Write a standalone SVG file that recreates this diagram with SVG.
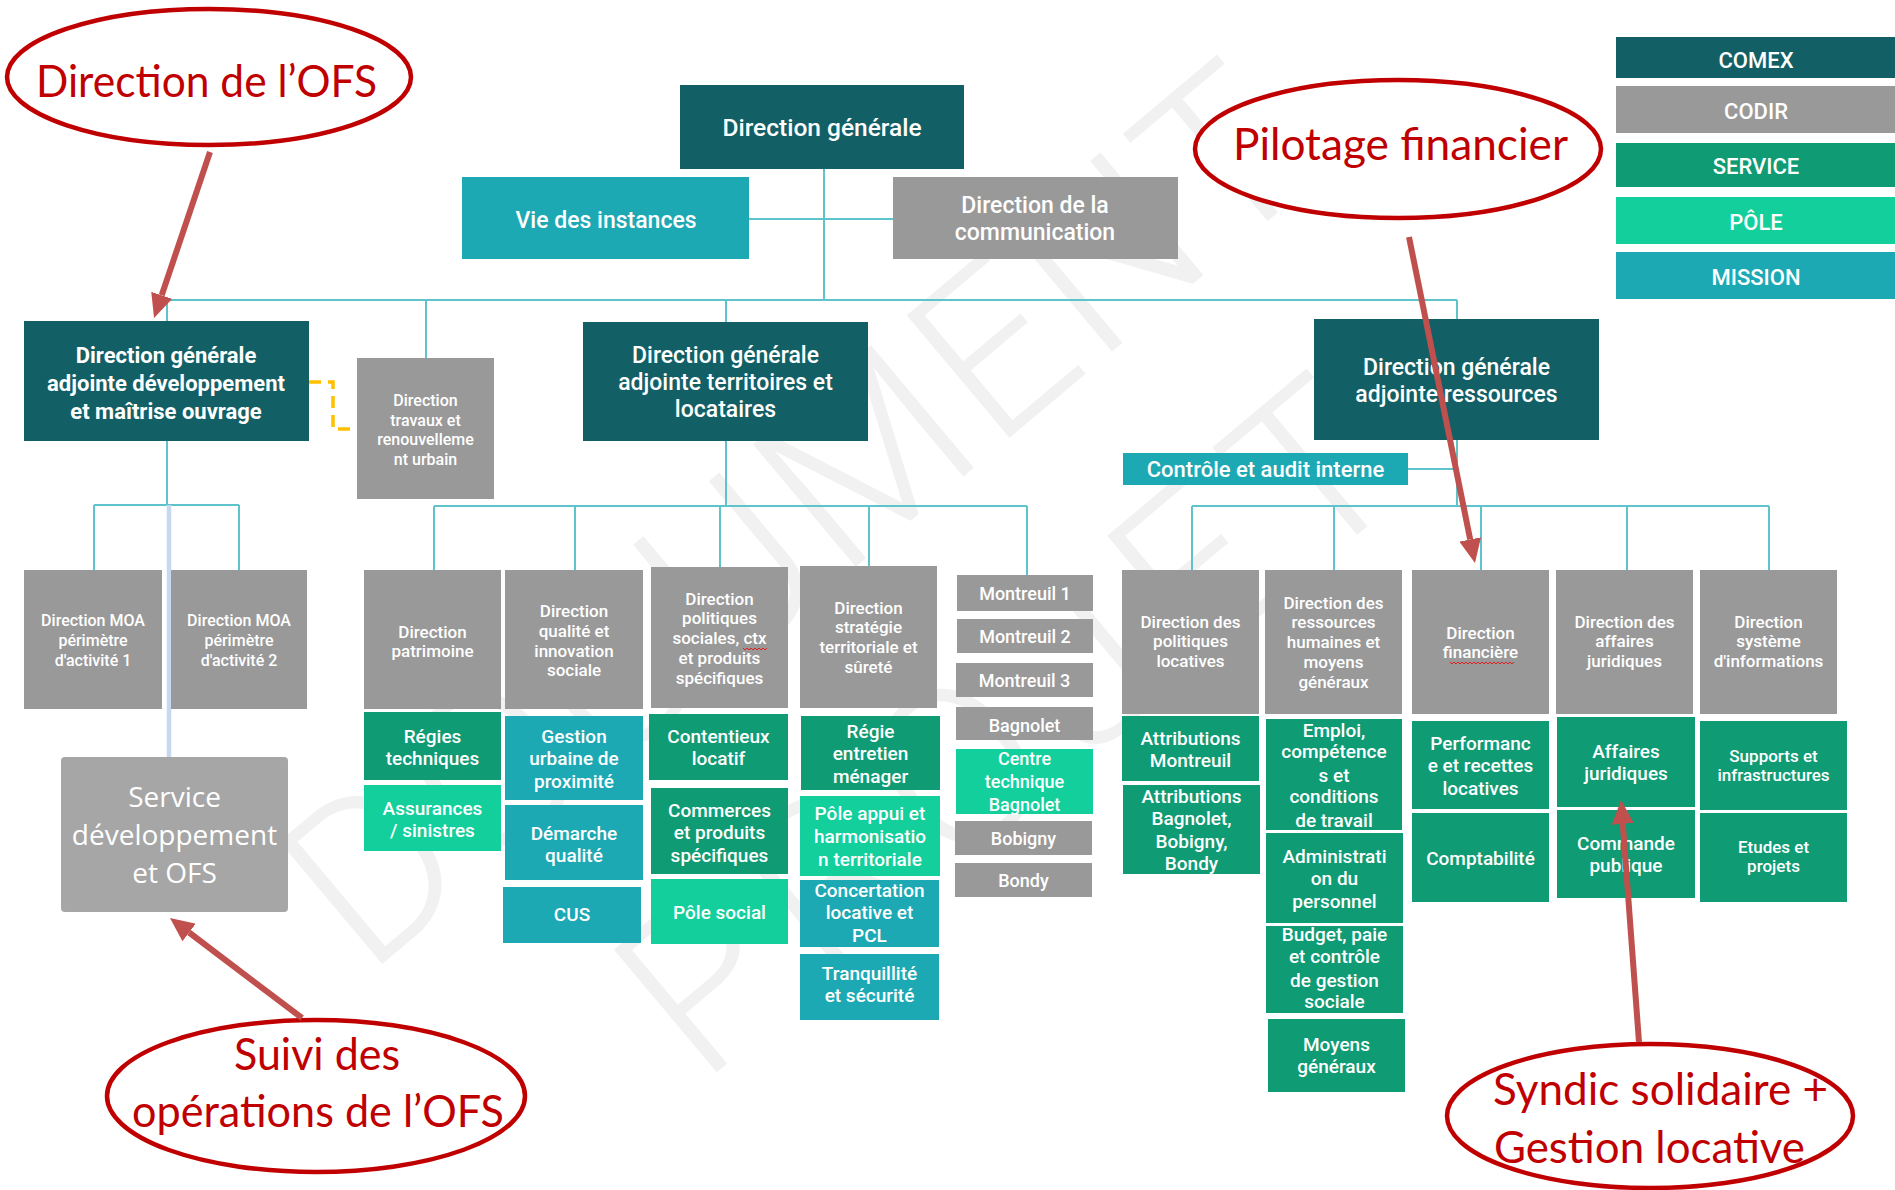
<svg xmlns="http://www.w3.org/2000/svg" width="1895" height="1190" viewBox="0 0 1895 1190">
  <defs>
    <style>
      .c1{fill:#135f66}
      .c2{fill:#999999}
      .c3{fill:#0f9b74}
      .c4{fill:#12cf9b}
      .c5{fill:#1ca9b4}
      .ln{stroke:#5ec3cb;stroke-width:2;fill:none}
      .t{fill:#ffffff;font-family:Roboto,"Liberation Sans",Arial,sans-serif;font-weight:500;text-anchor:middle}
      .b{font-weight:700}
      .f24{font-size:24.5px}
      .f23{font-size:23px}
      .f22{font-size:22px}
      .f21{font-size:22px}
      .f19{font-size:19px}
      .f18{font-size:18px}
      .f17{font-size:17px}
      .f16{font-size:16px}
      .ofs{fill:#ffffff;font-family:"Open Sans","Noto Sans",sans-serif;font-size:28px;text-anchor:middle}
      .ann{fill:#c00000;font-family:Lato,"Liberation Sans",sans-serif;font-size:45px}
      .ell{fill:#ffffff;stroke:#c00000;stroke-width:4.5}
      .arr{stroke:#c0504d;stroke-width:6;fill:none;marker-end:url(#ah)}
      .wm{fill:#f1f1f1;font-family:Roboto,"Liberation Sans",sans-serif;font-weight:300;font-size:225px;text-anchor:middle}
      .sq{stroke:#e02020;stroke-width:1;fill:none}
    </style>
    <marker id="ah" viewBox="0 0 24 22" refX="0" refY="11" markerWidth="24" markerHeight="22" markerUnits="userSpaceOnUse" orient="auto">
      <path d="M0,0 L24,11 L0,22 Z" fill="#c0504d"/>
    </marker>
  </defs>

  <rect width="1895" height="1190" fill="#ffffff"/>

  <!-- watermark -->
  <g id="watermark">
    <text class="wm" transform="translate(794,514) rotate(-40)" dy="80" textLength="1250" lengthAdjust="spacing">DOCUMENT</text>
    <text class="wm" transform="translate(1006,725) rotate(-40)" dy="80" textLength="930" lengthAdjust="spacing">PROJET</text>
  </g>

  <!-- legend -->
  <g id="legend">
    <g id="leg-comex"><rect class="c1" x="1616" y="37" width="279" height="41"/><text class="t f22" x="1756" y="68">COMEX</text></g>
    <g id="leg-codir"><rect class="c2" x="1616" y="86" width="279" height="47"/><text class="t f22" x="1756" y="119">CODIR</text></g>
    <g id="leg-service"><rect class="c3" x="1616" y="143" width="279" height="44"/><text class="t f22" x="1756" y="174">SERVICE</text></g>
    <g id="leg-pole"><rect class="c4" x="1616" y="197" width="279" height="47"/><text class="t f22" x="1756" y="230">PÔLE</text></g>
    <g id="leg-mission"><rect class="c5" x="1616" y="252" width="279" height="47"/><text class="t f22" x="1756" y="285">MISSION</text></g>
  </g>

  <!-- connectors -->
  <g id="connectors">
    <path class="ln" d="M824,169 V300 M749,219 H893 M167,300 H1457 M167,300 V321 M426,300 V358 M726,300 V322 M1457,300 V319"/>
    <path class="ln" d="M167,441 V505 M94,505 H239 M94,505 V570 M239,505 V570"/>
    <path d="M169,505 V757" stroke="#c6d9f0" stroke-width="4.5" fill="none"/>
    <path d="M309,382 H333 V429 H357" stroke="#ffc000" stroke-width="3.5" stroke-dasharray="12 7" fill="none"/>
    <path class="ln" d="M726,441 V506 M434,506 H1027 M434,506 V570 M575,506 V570 M720,506 V567 M869,506 V566 M1027,506 V575"/>
    <path class="ln" d="M1457,440 V506 M1408,469 H1457 M1192,506 H1769 M1192,506 V570 M1334,506 V570 M1481,506 V570 M1627,506 V570 M1769,506 V570"/>
  </g>

  <!-- top level -->
  <g id="dg"><rect class="c1" x="680" y="85" width="284" height="84"/><text class="t f24" x="822" y="136">Direction générale</text></g>
  <g id="vie-instances"><rect class="c5" x="462" y="177" width="287" height="82"/><text class="t f23" x="606" y="228">Vie des instances</text></g>
  <g id="communication"><rect class="c2" x="893" y="177" width="285" height="82"/><text class="t f23"><tspan x="1035" y="213">Direction de la</tspan><tspan x="1035" y="240">communication</tspan></text></g>

  <!-- DGA développement et maîtrise ouvrage -->
  <g id="dga-dev"><rect class="c1" x="24" y="321" width="285" height="120"/><text class="t b f22"><tspan x="166" y="363">Direction générale</tspan><tspan x="166" y="391">adjointe développement</tspan><tspan x="166" y="419">et maîtrise ouvrage</tspan></text></g>
  <g id="travaux"><rect class="c2" x="357" y="358" width="137" height="141"/><text class="t f16"><tspan x="425.5" y="406">Direction</tspan><tspan x="425.5" y="426">travaux et</tspan><tspan x="425.5" y="445">renouvelleme</tspan><tspan x="425.5" y="465">nt urbain</tspan></text></g>
  <g id="moa1"><rect class="c2" x="24" y="570" width="138" height="139"/><text class="t f16"><tspan x="93" y="626">Direction MOA</tspan><tspan x="93" y="646">périmètre</tspan><tspan x="93" y="666">d'activité 1</tspan></text></g>
  <g id="moa2"><rect class="c2" x="171" y="570" width="136" height="139"/><text class="t f16"><tspan x="239" y="626">Direction MOA</tspan><tspan x="239" y="646">périmètre</tspan><tspan x="239" y="666">d'activité 2</tspan></text></g>
  <g id="service-ofs"><rect x="61" y="757" width="227" height="155" rx="4" fill="#a6a6a6"/><text class="ofs"><tspan x="174.5" y="807">Service</tspan><tspan x="174.5" y="845">développement</tspan><tspan x="174.5" y="883">et OFS</tspan></text></g>

  <!-- DGA territoires et locataires -->
  <g id="dga-terr"><rect class="c1" x="583" y="322" width="285" height="119"/><text class="t f23"><tspan x="725.5" y="363">Direction générale</tspan><tspan x="725.5" y="390">adjointe territoires et</tspan><tspan x="725.5" y="417">locataires</tspan></text></g>
  <g id="patrimoine"><rect class="c2" x="364" y="570" width="137" height="139"/><text class="t f17"><tspan x="432.5" y="638">Direction</tspan><tspan x="432.5" y="657">patrimoine</tspan></text></g>
  <g id="qualite"><rect class="c2" x="505" y="570" width="138" height="139"/><text class="t f17"><tspan x="574" y="617">Direction</tspan><tspan x="574" y="637">qualité et</tspan><tspan x="574" y="657">innovation</tspan><tspan x="574" y="676">sociale</tspan></text></g>
  <g id="politiques-sociales"><rect class="c2" x="651" y="567" width="137" height="141"/><text class="t f17"><tspan x="719.5" y="605">Direction</tspan><tspan x="719.5" y="624">politiques</tspan><tspan x="719.5" y="644">sociales, ctx</tspan><tspan x="719.5" y="664">et produits</tspan><tspan x="719.5" y="684">spécifiques</tspan></text><path class="sq" d="M743,648 l2,2 l2,-2 l2,2 l2,-2 l2,2 l2,-2 l2,2 l2,-2 l2,2 l2,-2 l2,2 l2,-2"/></g>
  <g id="strategie"><rect class="c2" x="800" y="566" width="137" height="142"/><text class="t f17"><tspan x="868.5" y="614">Direction</tspan><tspan x="868.5" y="633">stratégie</tspan><tspan x="868.5" y="653">territoriale et</tspan><tspan x="868.5" y="673">sûreté</tspan></text></g>

  <g id="regies"><rect class="c3" x="364" y="712" width="137" height="68"/><text class="t f19"><tspan x="432.5" y="743">Régies</tspan><tspan x="432.5" y="765">techniques</tspan></text></g>
  <g id="assurances"><rect class="c4" x="364" y="785" width="137" height="66"/><text class="t f19"><tspan x="432.5" y="815">Assurances</tspan><tspan x="432.5" y="837">/ sinistres</tspan></text></g>
  <g id="gestion-urbaine"><rect class="c5" x="505" y="716" width="138" height="84"/><text class="t f19"><tspan x="574" y="743">Gestion</tspan><tspan x="574" y="765">urbaine de</tspan><tspan x="574" y="788">proximité</tspan></text></g>
  <g id="demarche-qualite"><rect class="c5" x="505" y="805" width="138" height="75"/><text class="t f19"><tspan x="574" y="840">Démarche</tspan><tspan x="574" y="862">qualité</tspan></text></g>
  <g id="cus"><rect class="c5" x="503" y="887" width="138" height="56"/><text class="t f19" x="572" y="921">CUS</text></g>
  <g id="contentieux"><rect class="c3" x="649" y="714" width="139" height="66"/><text class="t f19"><tspan x="718.5" y="743">Contentieux</tspan><tspan x="718.5" y="765">locatif</tspan></text></g>
  <g id="commerces"><rect class="c3" x="651" y="788" width="137" height="86"/><text class="t f19"><tspan x="719.5" y="817">Commerces</tspan><tspan x="719.5" y="839">et produits</tspan><tspan x="719.5" y="862">spécifiques</tspan></text></g>
  <g id="pole-social"><rect class="c4" x="651" y="879" width="137" height="65"/><text class="t f19" x="719.5" y="919">Pôle social</text></g>
  <g id="regie-entretien"><rect class="c3" x="801" y="716" width="139" height="74"/><text class="t f19"><tspan x="870.5" y="738">Régie</tspan><tspan x="870.5" y="760">entretien</tspan><tspan x="870.5" y="783">ménager</tspan></text></g>
  <g id="pole-appui"><rect class="c4" x="800" y="796" width="140" height="80"/><text class="t f19"><tspan x="870" y="820">Pôle appui et</tspan><tspan x="870" y="843">harmonisatio</tspan><tspan x="870" y="866">n territoriale</tspan></text></g>
  <g id="concertation"><rect class="c5" x="800" y="880" width="139" height="67"/><text class="t f19"><tspan x="869.5" y="897">Concertation</tspan><tspan x="869.5" y="919">locative et</tspan><tspan x="869.5" y="942">PCL</tspan></text></g>
  <g id="tranquillite"><rect class="c5" x="800" y="954" width="139" height="66"/><text class="t f19"><tspan x="869.5" y="980">Tranquillité</tspan><tspan x="869.5" y="1002">et sécurité</tspan></text></g>

  <g id="montreuil1"><rect class="c2" x="957" y="575" width="136" height="36"/><text class="t f18" x="1025" y="600">Montreuil 1</text></g>
  <g id="montreuil2"><rect class="c2" x="957" y="619" width="136" height="34"/><text class="t f18" x="1025" y="643">Montreuil 2</text></g>
  <g id="montreuil3"><rect class="c2" x="956" y="663" width="137" height="34"/><text class="t f18" x="1024.5" y="687">Montreuil 3</text></g>
  <g id="bagnolet"><rect class="c2" x="956" y="707" width="137" height="33"/><text class="t f18" x="1024.5" y="732">Bagnolet</text></g>
  <g id="centre-technique"><rect class="c4" x="956" y="749" width="137" height="65"/><text class="t f18"><tspan x="1024.5" y="765">Centre</tspan><tspan x="1024.5" y="788">technique</tspan><tspan x="1024.5" y="811">Bagnolet</tspan></text></g>
  <g id="bobigny"><rect class="c2" x="955" y="821" width="137" height="34"/><text class="t f18" x="1023.5" y="845">Bobigny</text></g>
  <g id="bondy"><rect class="c2" x="955" y="863" width="137" height="34"/><text class="t f18" x="1023.5" y="887">Bondy</text></g>

  <!-- DGA ressources -->
  <g id="dga-ress"><rect class="c1" x="1314" y="319" width="285" height="121"/><text class="t f23"><tspan x="1456.5" y="375">Direction générale</tspan><tspan x="1456.5" y="402">adjointe ressources</tspan></text></g>
  <g id="controle"><rect class="c5" x="1123" y="453" width="285" height="32"/><text class="t f21" x="1265.5" y="477">Contrôle et audit interne</text></g>
  <g id="politiques-locatives"><rect class="c2" x="1122" y="570" width="137" height="144"/><text class="t f17"><tspan x="1190.5" y="628">Direction des</tspan><tspan x="1190.5" y="647">politiques</tspan><tspan x="1190.5" y="667">locatives</tspan></text></g>
  <g id="rh"><rect class="c2" x="1265" y="570" width="137" height="144"/><text class="t f17"><tspan x="1333.5" y="609">Direction des</tspan><tspan x="1333.5" y="628">ressources</tspan><tspan x="1333.5" y="648">humaines et</tspan><tspan x="1333.5" y="668">moyens</tspan><tspan x="1333.5" y="688">généraux</tspan></text></g>
  <g id="financiere"><rect class="c2" x="1412" y="570" width="137" height="144"/><text class="t f17"><tspan x="1480.5" y="639">Direction</tspan><tspan x="1480.5" y="658">financière</tspan></text><path class="sq" d="M1450,662 l2,2 l2,-2 l2,2 l2,-2 l2,2 l2,-2 l2,2 l2,-2 l2,2 l2,-2 l2,2 l2,-2 l2,2 l2,-2 l2,2 l2,-2 l2,2 l2,-2 l2,2 l2,-2 l2,2 l2,-2 l2,2 l2,-2 l2,2 l2,-2 l2,2 l2,-2 l2,2 l2,-2 l2,2 l2,-2"/></g>
  <g id="juridiques"><rect class="c2" x="1556" y="570" width="137" height="144"/><text class="t f17"><tspan x="1624.5" y="628">Direction des</tspan><tspan x="1624.5" y="647">affaires</tspan><tspan x="1624.5" y="667">juridiques</tspan></text></g>
  <g id="systeme-info"><rect class="c2" x="1700" y="570" width="137" height="144"/><text class="t f17"><tspan x="1768.5" y="628">Direction</tspan><tspan x="1768.5" y="647">système</tspan><tspan x="1768.5" y="667">d'informations</tspan></text></g>

  <g id="attr-montreuil"><rect class="c3" x="1122" y="716" width="137" height="65"/><text class="t f19"><tspan x="1190.5" y="745">Attributions</tspan><tspan x="1190.5" y="767">Montreuil</tspan></text></g>
  <g id="attr-bagnolet"><rect class="c3" x="1123" y="785" width="137" height="89"/><text class="t f19"><tspan x="1191.5" y="803">Attributions</tspan><tspan x="1191.5" y="825">Bagnolet,</tspan><tspan x="1191.5" y="848">Bobigny,</tspan><tspan x="1191.5" y="870">Bondy</tspan></text></g>
  <g id="emploi"><rect class="c3" x="1266" y="719" width="136" height="111"/><text class="t f19"><tspan x="1334" y="737">Emploi,</tspan><tspan x="1334" y="758">compétence</tspan><tspan x="1334" y="782">s et</tspan><tspan x="1334" y="803">conditions</tspan><tspan x="1334" y="827">de travail</tspan></text></g>
  <g id="administration"><rect class="c3" x="1266" y="833" width="137" height="90"/><text class="t f19"><tspan x="1334.5" y="863">Administrati</tspan><tspan x="1334.5" y="885">on du</tspan><tspan x="1334.5" y="908">personnel</tspan></text></g>
  <g id="budget"><rect class="c3" x="1266" y="926" width="137" height="87"/><text class="t f19"><tspan x="1334.5" y="941">Budget, paie</tspan><tspan x="1334.5" y="963">et contrôle</tspan><tspan x="1334.5" y="987">de gestion</tspan><tspan x="1334.5" y="1008">sociale</tspan></text></g>
  <g id="moyens"><rect class="c3" x="1268" y="1019" width="137" height="73"/><text class="t f19"><tspan x="1336.5" y="1051">Moyens</tspan><tspan x="1336.5" y="1073">généraux</tspan></text></g>
  <g id="performance"><rect class="c3" x="1412" y="721" width="137" height="88"/><text class="t f19"><tspan x="1480.5" y="750">Performanc</tspan><tspan x="1480.5" y="772">e et recettes</tspan><tspan x="1480.5" y="795">locatives</tspan></text></g>
  <g id="comptabilite"><rect class="c3" x="1412" y="813" width="137" height="89"/><text class="t f19" x="1480.5" y="865">Comptabilité</text></g>
  <g id="affaires-juridiques"><rect class="c3" x="1557" y="717" width="138" height="90"/><text class="t f19"><tspan x="1626" y="758">Affaires</tspan><tspan x="1626" y="780">juridiques</tspan></text></g>
  <g id="commande-publique"><rect class="c3" x="1557" y="810" width="138" height="88"/><text class="t f19"><tspan x="1626" y="850">Commande</tspan><tspan x="1626" y="872">publique</tspan></text></g>
  <g id="supports"><rect class="c3" x="1700" y="721" width="147" height="89"/><text class="t f17"><tspan x="1773.5" y="762">Supports et</tspan><tspan x="1773.5" y="781">infrastructures</tspan></text></g>
  <g id="etudes"><rect class="c3" x="1700" y="813" width="147" height="89"/><text class="t f17"><tspan x="1773.5" y="853">Etudes et</tspan><tspan x="1773.5" y="872">projets</tspan></text></g>

  <!-- callouts -->
  <g id="note-ofs">
    <ellipse class="ell" cx="209" cy="77" rx="202" ry="68"/>
    <text class="ann" x="36" y="97" textLength="341" lengthAdjust="spacingAndGlyphs">Direction de l’OFS</text>
    <path class="arr" d="M210,152 L161.7,295.3"/>
  </g>
  <g id="note-pilotage">
    <ellipse class="ell" cx="1398" cy="149" rx="203" ry="69"/>
    <text class="ann" x="1233" y="160" textLength="335" lengthAdjust="spacingAndGlyphs">Pilotage financier</text>
  </g>
  <g id="note-suivi">
    <ellipse class="ell" cx="316" cy="1096" rx="209" ry="76"/>
    <text class="ann" x="234" y="1070" textLength="166" lengthAdjust="spacingAndGlyphs">Suivi des</text>
    <text class="ann" x="132" y="1127" textLength="372" lengthAdjust="spacingAndGlyphs">opérations de l’OFS</text>
    <path class="arr" d="M302,1018 L189.1,932.5"/>
  </g>
  <g id="note-syndic">
    <ellipse class="ell" cx="1650" cy="1116" rx="203" ry="72"/>
    <text class="ann" x="1493" y="1105" textLength="335" lengthAdjust="spacingAndGlyphs">Syndic solidaire +</text>
    <text class="ann" x="1494" y="1163" textLength="311" lengthAdjust="spacingAndGlyphs">Gestion locative</text>
    <path class="arr" d="M1639,1042 L1622.8,823.9"/>
  </g>
  <path class="arr" d="M1409,237 L1470.2,539.5"/>
</svg>
